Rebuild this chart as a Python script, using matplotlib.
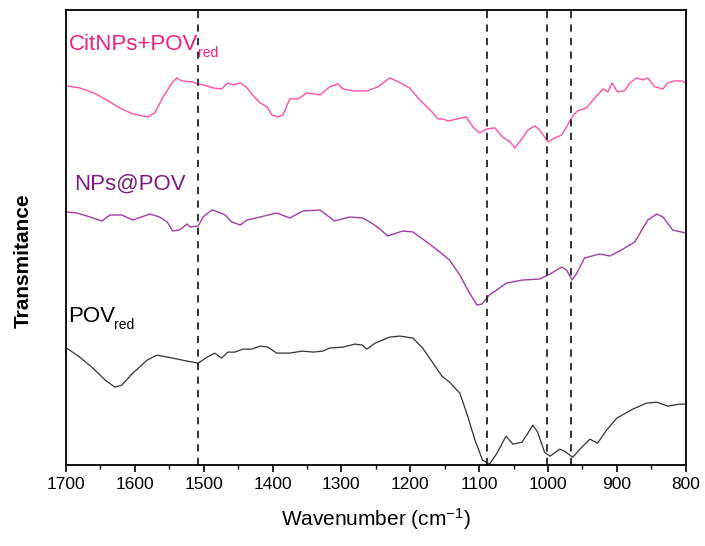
import numpy as np
import matplotlib
matplotlib.use('Agg')
import matplotlib.pyplot as plt
from matplotlib.ticker import MultipleLocator

plt.rcParams['font.family'] = ['Liberation Sans', 'DejaVu Sans']
plt.rcParams['mathtext.fontset'] = 'custom'
plt.rcParams['mathtext.rm'] = 'Liberation Sans'
plt.rcParams['mathtext.it'] = 'Liberation Sans'

# CitNPs+POVred spectrum (wavenumber, transmittance a.u.)
wn_cit = [1699, 1680, 1660, 1641, 1622, 1603, 1581, 1571, 1559, 1546, 1539, 1532, 1517, 1508,
          1495, 1487, 1474, 1465, 1458, 1447, 1437, 1429, 1418, 1408, 1401, 1392, 1385, 1375,
          1363, 1350, 1331, 1317, 1305, 1298, 1283, 1263, 1247, 1230, 1220, 1201, 1186, 1167,
          1160, 1153, 1145, 1132, 1119, 1109, 1099, 1089, 1077, 1066, 1055, 1048, 1037, 1029,
          1019, 1012, 1000, 990, 980, 973, 965, 957, 944, 932, 920, 913, 907, 899, 889, 881,
          871, 862, 855, 845, 833, 826, 816, 806, 800]
t_cit = [3.79, 3.77, 3.72, 3.65, 3.57, 3.51, 3.48, 3.52, 3.68, 3.82, 3.87, 3.84, 3.83, 3.81,
         3.79, 3.77, 3.76, 3.82, 3.80, 3.82, 3.77, 3.70, 3.62, 3.58, 3.50, 3.48, 3.50, 3.66,
         3.66, 3.72, 3.70, 3.78, 3.81, 3.76, 3.74, 3.74, 3.78, 3.87, 3.84, 3.77, 3.65, 3.52,
         3.46, 3.46, 3.44, 3.46, 3.48, 3.38, 3.32, 3.36, 3.37, 3.28, 3.23, 3.17, 3.27, 3.35,
         3.39, 3.35, 3.23, 3.27, 3.30, 3.38, 3.48, 3.54, 3.57, 3.67, 3.76, 3.73, 3.82, 3.73,
         3.74, 3.82, 3.87, 3.85, 3.87, 3.78, 3.76, 3.82, 3.84, 3.84, 3.82]

# NPs@POV spectrum
wn_nps = [1699, 1684, 1665, 1648, 1636, 1619, 1603, 1578, 1564, 1553, 1545, 1535, 1524, 1520,
          1508, 1501, 1488, 1479, 1469, 1459, 1447, 1437, 1418, 1394, 1375, 1356, 1331, 1310,
          1288, 1269, 1254, 1244, 1233, 1211, 1196, 1176, 1157, 1143, 1128, 1114, 1103, 1096,
          1085, 1060, 1037, 1012, 997, 980, 973, 965, 958, 947, 925, 910, 896, 874, 855, 842,
          833, 819, 800]
t_nps = [2.53, 2.52, 2.48, 2.44, 2.50, 2.50, 2.45, 2.51, 2.48, 2.43, 2.34, 2.35, 2.41, 2.38,
         2.39, 2.48, 2.55, 2.53, 2.50, 2.43, 2.40, 2.45, 2.48, 2.52, 2.47, 2.54, 2.55, 2.44,
         2.48, 2.47, 2.41, 2.36, 2.29, 2.34, 2.33, 2.23, 2.13, 2.05, 1.90, 1.72, 1.60, 1.61,
         1.70, 1.82, 1.85, 1.86, 1.91, 1.98, 1.95, 1.85, 1.92, 2.07, 2.11, 2.09, 2.14, 2.23,
         2.45, 2.51, 2.48, 2.35, 2.32]

# POVred spectrum
wn_pov = [1699, 1680, 1661, 1643, 1629, 1619, 1603, 1582, 1568, 1545, 1524, 1508, 1495, 1484,
          1474, 1465, 1455, 1443, 1430, 1418, 1407, 1394, 1375, 1357, 1341, 1327, 1317, 1298,
          1280, 1270, 1263, 1251, 1244, 1230, 1215, 1196, 1182, 1167, 1154, 1143, 1128, 1118,
          1106, 1095, 1085, 1074, 1061, 1051, 1038, 1031, 1022, 1015, 1005, 997, 983, 976,
          964, 951, 939, 928, 915, 900, 877, 857, 842, 826, 809, 800]
t_pov = [1.17, 1.08, 0.97, 0.85, 0.78, 0.80, 0.92, 1.05, 1.10, 1.07, 1.04, 1.02, 1.08, 1.12,
         1.07, 1.13, 1.13, 1.16, 1.16, 1.19, 1.18, 1.12, 1.12, 1.14, 1.13, 1.14, 1.17, 1.18,
         1.21, 1.20, 1.16, 1.22, 1.24, 1.28, 1.29, 1.27, 1.17, 1.02, 0.89, 0.83, 0.72, 0.52,
         0.25, 0.05, 0.01, 0.12, 0.29, 0.21, 0.23, 0.30, 0.40, 0.33, 0.13, 0.09, 0.16, 0.14,
         0.08, 0.18, 0.26, 0.22, 0.35, 0.47, 0.56, 0.62, 0.63, 0.59, 0.61, 0.61]

# marked bands
bands = [1508, 1088, 1002, 967]

fig = plt.figure(figsize=(7.05, 5.46), dpi=100)
ax = fig.add_axes([0.0936, 0.148, 0.879, 0.834])

ax.plot(wn_cit, t_cit, color='#FF4FA3', lw=1.0)
ax.plot(wn_nps, t_nps, color='#A53AA8', lw=1.0)
ax.plot(wn_pov, t_pov, color='#333333', lw=0.9)

for b in bands:
    ax.axvline(b, color='#222222', lw=1.3, linestyle=(0, (4, 3.5)))

# labels, subscript "red" drawn as its own smaller text
ax.text(1696, 4.15, 'CitNPs+POV', color='#F0207C', fontsize=16)
ax.text(1509, 4.08, 'red', color='#F0207C', fontsize=10)
ax.text(1688, 2.75, 'NPs@POV', color='#7F1A82', fontsize=16)
ax.text(1697, 1.43, 'POV', color='black', fontsize=16)
ax.text(1630, 1.36, 'red', color='black', fontsize=10)

ax.set_xlim(1700, 800)
ax.set_ylim(0, 4.55)
ax.xaxis.set_major_locator(MultipleLocator(100))
ax.xaxis.set_minor_locator(MultipleLocator(50))
ax.tick_params(axis='x', which='major', direction='out', length=5, width=1.2, labelsize=12.5)
ax.tick_params(axis='x', which='minor', direction='out', length=3, width=1.0)
ax.set_yticks([])
for s in ax.spines.values():
    s.set_linewidth(1.3)

ax.set_xlabel('Wavenumber (cm$^{-1}$)', fontsize=15, labelpad=10)
ax.set_ylabel('Transmitance', fontsize=15, fontweight='bold')
ax.yaxis.set_label_coords(-0.053, 0.45)

fig.savefig('out.png', dpi=100)
